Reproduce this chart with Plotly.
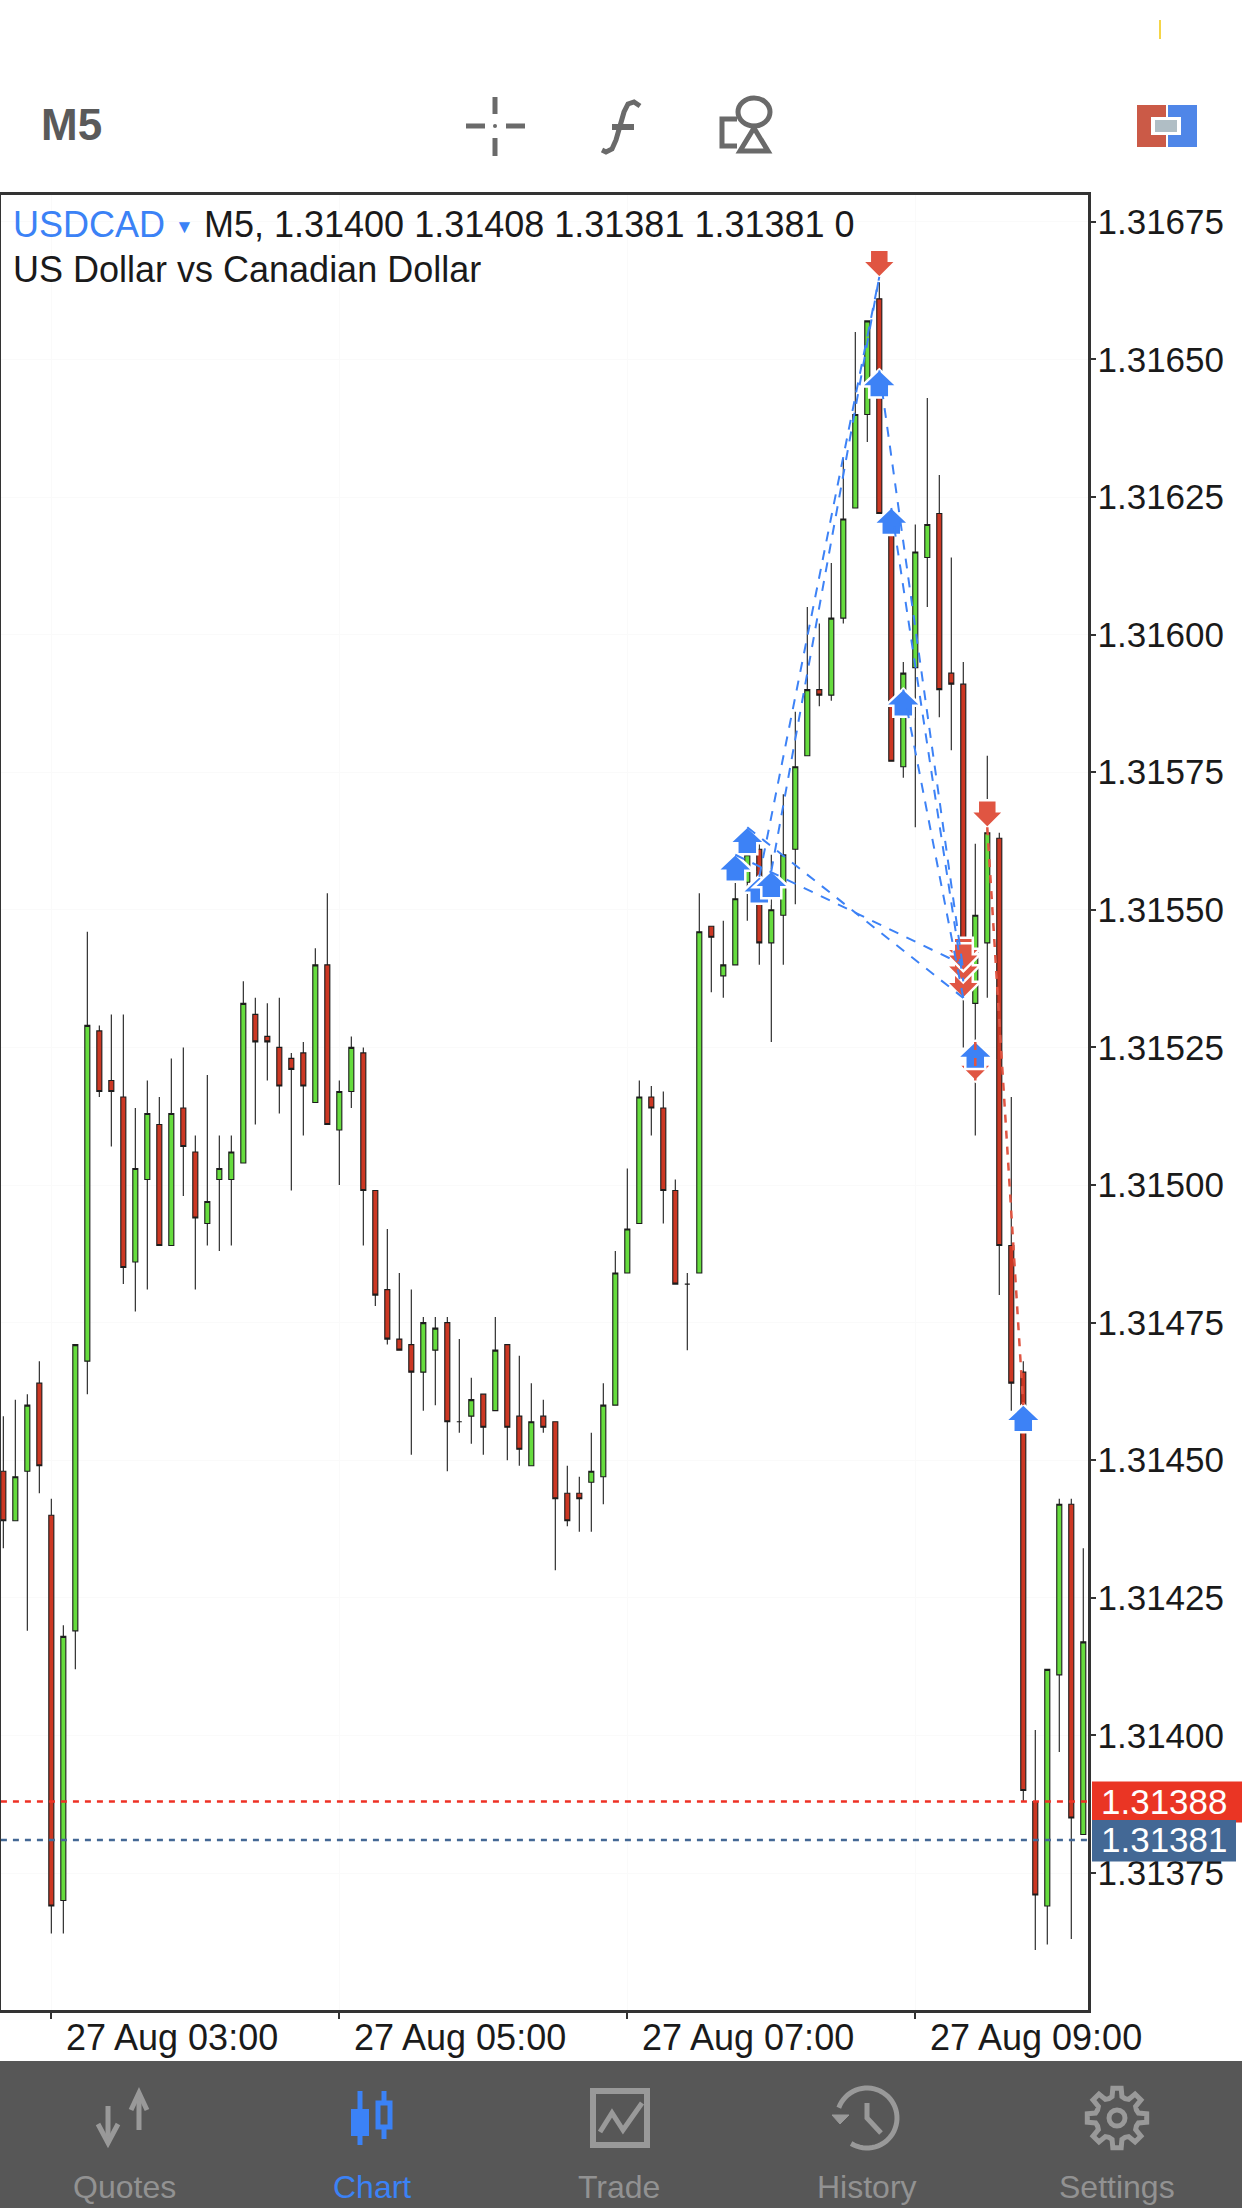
import math
import pandas as pd
import plotly.graph_objects as go

# ---------- DATA (prices in points, 1 point = 0.00001) ----------
open_pts = [131448,131439,131448,131464,131440,131370,131419,131468,131528,131519,131516,131486,131501,131511,131489,131514,131506,131493,131501,131501,131504,131531,131527,131525,131523,131524,131515,131540,131510,131517,131524,131499,131481,131472,131471,131466,131470,131475,131457,131458,131462,131459,131471,131458,131449,131458,131457,131444,131444,131446,131447,131460,131484,131493,131516,131514,131499,131482,131484,131547,131538,131540,131555,131561,131544,131549,131561,131578,131590,131589,131603,131623,131640,131661,131622,131576,131594,131614,131622,131593,131591,131533,131544,131563,131489,131466,131388,131369,131411,131442,131382]
high_pts = [131458,131461,131462,131468,131443,131420,131471,131546,131529,131531,131531,131514,131519,131516,131523,131525,131509,131520,131509,131509,131537,131534,131533,131534,131524,131526,131543,131553,131519,131527,131525,131499,131492,131484,131481,131476,131476,131476,131472,131465,131462,131476,131471,131469,131464,131461,131457,131449,131447,131455,131464,131488,131503,131519,131518,131517,131501,131484,131553,131547,131548,131555,131562,131562,131560,131571,131586,131605,131602,131613,131632,131655,131657,131664,131623,131595,131620,131643,131629,131614,131595,131562,131578,131564,131516,131468,131401,131412,131443,131443,131434]
low_pts = [131434,131439,131419,131444,131364,131364,131412,131462,131516,131507,131482,131477,131481,131489,131489,131498,131481,131489,131488,131489,131504,131511,131519,131513,131499,131509,131515,131511,131500,131514,131489,131478,131471,131470,131451,131459,131460,131448,131455,131453,131451,131459,131450,131449,131449,131455,131430,131438,131437,131437,131442,131460,131484,131493,131509,131493,131482,131470,131484,131535,131534,131540,131548,131540,131526,131540,131551,131578,131587,131588,131602,131623,131635,131622,131577,131574,131565,131605,131585,131579,131525,131509,131534,131480,131459,131388,131361,131362,131397,131363,131382]
close_pts = [131439,131447,131460,131449,131369,131418,131471,131529,131517,131517,131485,131503,131513,131489,131513,131507,131494,131497,131503,131506,131533,131526,131526,131518,131521,131518,131540,131511,131517,131525,131499,131480,131472,131470,131466,131475,131474,131457,131457,131461,131456,131470,131456,131452,131457,131456,131443,131439,131443,131448,131460,131484,131492,131516,131514,131499,131482,131482,131546,131545,131540,131552,131560,131544,131550,131560,131576,131590,131589,131603,131621,131640,131657,131622,131577,131593,131615,131620,131590,131591,131535,131549,131564,131489,131464,131390,131371,131412,131442,131385,131417]

buy_bars = [63,61,62,64,73,74,75,81,85]
buy_pts = [131556,131560,131565,131557,131648,131623,131590,131526,131460]
sell_bars = [73,82,81,80,80,80,80]
sell_pts = [131665,131565,131519,131540,131534,131537,131539]

blue_from_bar = [63,64,62,61,73,74,75]
blue_from_pts = [131556,131557,131565,131560,131648,131623,131590]
blue_to_bar = [73,73,80,80,80,80,80]
blue_to_pts = [131665,131665,131534,131540,131539,131537,131534]
red_from_bar = [82,81]
red_from_pts = [131565,131526]
red_to_bar = [85,81]
red_to_pts = [131460,131519]

ask_price = 131388
bid_price = 131381
y_ticks = [131375,131400,131425,131450,131475,131500,131525,131550,131575,131600,131625,131650,131675]
x_tick_text = ["27 Aug 03:00","27 Aug 05:00","27 Aug 07:00","27 Aug 09:00"]
x_tick_vals = ["2019-08-27 02:59:54","2019-08-27 04:59:54","2019-08-27 06:59:54","2019-08-27 08:59:54"]
tab_labels = ["Quotes","Chart","Trade","History","Settings"]
header_values = "M5, 1.31400 1.31408 1.31381 1.31381 0"
header_name = "US Dollar vs Canadian Dollar"

# ---------- derived ----------
times = pd.date_range("2019-08-27 02:40", periods=len(open_pts), freq="5min")
tstr = [t.strftime("%Y-%m-%d %H:%M:%S") for t in times]
def px(v): return v / 1e5

W, H = 1242, 2208
L, R, T, B = 1, 1088, 195, 2010
GREEN, RED = "#66dc3e", "#cc3723"
DARK = "#1c1c1c"
BLUE_M, RED_M = "#3d82f6", "#e05542"
ICON = "#6a6a6a"
TAB = "#999999"
AXIS_FONT = "Liberation Sans"

fig = go.Figure()
fig.add_trace(go.Scatter(x=["2019-08-27 02:39", "2019-08-27 10:13"], y=[px(ask_price)]*2, mode="lines",
                         line=dict(color="#ee3124", width=2.6, dash="6px,6px"), hoverinfo="skip"))
fig.add_trace(go.Scatter(x=["2019-08-27 02:39", "2019-08-27 10:13"], y=[px(bid_price)]*2, mode="lines",
                         line=dict(color="#436895", width=2.6, dash="6px,6px"), hoverinfo="skip"))
fig.add_trace(go.Candlestick(
    x=tstr, open=[px(v) for v in open_pts], high=[px(v) for v in high_pts],
    low=[px(v) for v in low_pts], close=[px(v) for v in close_pts],
    increasing=dict(fillcolor=GREEN, line=dict(color=DARK, width=1.1)),
    decreasing=dict(fillcolor=RED, line=dict(color=DARK, width=1.1)),
    whiskerwidth=0))

shapes, annos = [], []
def fx(x): return (x - L) / (R - L)
def fy(y): return 1 - (y - T) / (B - T)
def paper_path(pts, close=False, **kw):
    d = "M " + " L ".join(f"{fx(x):.5f} {fy(y):.5f}" for x, y in pts) + (" Z" if close else "")
    shapes.append(dict(type="path", xref="paper", yref="paper", path=d, **kw))
def rect(x0, y0, x1, y1, fill, line=None, lw=0):
    shapes.append(dict(type="rect", xref="paper", yref="paper", x0=fx(x0), x1=fx(x1), y0=fy(y0), y1=fy(y1),
                       fillcolor=fill, line=dict(color=line or fill, width=lw)))
def stroke(pts, color, w, close=False, fill=None):
    paper_path(pts, close=close, line=dict(color=color, width=w), fillcolor=fill or "rgba(0,0,0,0)")
def circle(cx, cy, rx, ry, fill, line, lw):
    shapes.append(dict(type="circle", xref="paper", yref="paper", x0=fx(cx-rx), x1=fx(cx+rx), y0=fy(cy+ry), y1=fy(cy-ry),
                       fillcolor=fill, line=dict(color=line, width=lw)))
def text(x, y, s, size, color, anchor="left", family="Liberation Sans"):
    annos.append(dict(xref="paper", yref="paper", x=fx(x), y=fy(y), text=s, showarrow=False, xanchor=anchor, yanchor="middle",
                      font=dict(size=size, color=color, family=family), borderpad=0))

# ---------- trade arrows (pixel sized, anchored on the data) ----------
UP = "M 0 1 L 18 -16 L 10 -16 L 10 -27 L -10 -27 L -10 -16 L -18 -16 Z"
DOWN = "M 0 -1 L 17 16 L 9.5 16 L 9.5 27 L -9.5 27 L -9.5 16 L -17 16 Z"
def arrow(i, p, path, color):
    shapes.append(dict(type="path", xref="x", yref="y", xsizemode="pixel", ysizemode="pixel",
                       xanchor=tstr[i], yanchor=px(p), path=path, fillcolor=color,
                       line=dict(color="white", width=2.5)))
for i, p in zip(sell_bars, sell_pts):
    arrow(i, p, DOWN, RED_M)
for i, p in zip(buy_bars, buy_pts):
    arrow(i, p, UP, BLUE_M)
for a, pa, b, pb in zip(blue_from_bar, blue_from_pts, blue_to_bar, blue_to_pts):
    shapes.append(dict(type="line", xref="x", yref="y", x0=tstr[a], y0=px(pa), x1=tstr[b], y1=px(pb),
                       line=dict(color=BLUE_M, width=2, dash="10px,9px")))
for a, pa, b, pb in zip(red_from_bar, red_from_pts, red_to_bar, red_to_pts):
    shapes.append(dict(type="line", xref="x", yref="y", x0=tstr[a], y0=px(pa), x1=tstr[b], y1=px(pb),
                       line=dict(color=RED_M, width=2.5, dash="8px,8px")))

# ---------- price tags ----------
rect(1092, 1781.5, W, 1822.5, "#ea3524")
rect(1092, 1820, 1236, 1861.5, "#436895")
annos.append(dict(xref="paper", yref="y", x=fx(1099), y=px(ask_price), text=f"{px(ask_price):.5f}", showarrow=False,
                  xanchor="left", yanchor="middle", font=dict(size=35, color="white", family=AXIS_FONT)))
annos.append(dict(xref="paper", yref="y", x=fx(1099), y=px(bid_price), text=f"{px(bid_price):.5f}", showarrow=False,
                  xanchor="left", yanchor="middle", font=dict(size=35, color="white", family=AXIS_FONT)))

# ---------- header ----------
text(12, 225, "USDCAD", 36, "#3b82f6")
text(174, 226, "▼", 19, "#3b82f6")
text(203, 225, header_values, 36, "#1a1a1a")
text(12, 269, header_name, 36, "#1a1a1a")

# ---------- top tool bar ----------
rect(1159, 20, 1161, 39, "#f5d547")
text(40, 124, "<b>M5</b>", 44, "#5a5a5a")
for seg in [((495,97),(495,114)), ((495,138),(495,156)), ((466,126),(485,126)), ((506,126),(525,126))]:
    stroke(list(seg), ICON, 5)
circle(495, 126, 2, 2, ICON, ICON, 0)
f_pts = [(640,106),(634,102),(628,104),(624,112),(620,126),(616,140),(612,149),(606,152),(602,150)]
stroke(f_pts, ICON, 5)
stroke([(612,127),(634,127)], ICON, 6)
stroke([(737,119),(722,119),(722,146),(737,146)], ICON, 5)
circle(754, 112, 16, 14, "rgba(0,0,0,0)", ICON, 5)
stroke([(754,128),(768,151),(740,151)], ICON, 5, close=True, fill="white")
rect(1137, 105, 1166, 147, "#cb5a47")
rect(1168, 105, 1197, 147, "#4f86e8")
rect(1151, 117, 1181, 135, "white")
rect(1155, 120, 1177, 132, "#b0bec5")

# ---------- tab bar ----------
rect(0, 2061, W, H, "#575757")
tab_x = [124, 372, 619, 867, 1117]
for x, s in zip(tab_x, tab_labels):
    text(x, 2187, s, 32, "#3b82f6" if s == "Chart" else "#929292", "center")
# quotes
stroke([(139,2093),(139,2130)], TAB, 5)
stroke([(131,2110),(139,2093),(147,2110)], TAB, 5)
stroke([(108,2106),(108,2143)], TAB, 5)
stroke([(98,2124),(108,2143),(118,2124)], TAB, 5)
# chart
stroke([(360,2091),(360,2145)], "#3b82f6", 5)
rect(351, 2109, 369, 2136, "#3b82f6")
stroke([(384,2091),(384,2139)], "#3b82f6", 5)
rect(378, 2103, 390, 2127, "#575757", "#3b82f6", 5)
# trade
rect(593, 2091, 647, 2145, "rgba(0,0,0,0)", TAB, 6)
stroke([(600,2132),(612,2113),(623,2130),(642,2103)], TAB, 5)
# history
arc = [(867 + 30*math.cos(math.radians(a)), 2118 + 30*math.sin(math.radians(a))) for a in range(200, 486, 6)]
stroke(arc, TAB, 5)
paper_path([(832,2115),(849,2115),(840,2124)], close=True, fillcolor=TAB, line=dict(color=TAB, width=1))
stroke([(867,2103),(867,2118),(881,2133)], TAB, 5)
# settings
gear = []
for k in range(8):
    c = k * 45 - 90
    for da, r in [(-22.5, 21), (-13, 22), (-8, 30), (8, 30), (13, 22)]:
        a = math.radians(c + da)
        gear.append((1117 + r*math.cos(a), 2118 + r*math.sin(a)))
stroke(gear, TAB, 5, close=True)
circle(1117, 2118, 8, 8, "rgba(0,0,0,0)", TAB, 5)

fig.update_layout(
    width=W, height=H, margin=dict(l=L, r=W-R, t=T, b=H-B, pad=0, autoexpand=False),
    paper_bgcolor="white", plot_bgcolor="white", showlegend=False, boxmode="overlay", boxgap=0.4,
    shapes=shapes, annotations=annos, hovermode=False,
    font=dict(family="Liberation Sans", color="#1a1a1a"),
    xaxis=dict(type="date", range=["2019-08-27 02:39:02", "2019-08-27 10:11:58"],
               tickmode="array", tickvals=x_tick_vals, ticktext=x_tick_text,
               ticks="outside", ticklen=6, tickwidth=1.5, tickcolor="#333333",
               tickfont=dict(size=36, color="#1a1a1a", family=AXIS_FONT),
               ticklabelshift=121, ticklabelstandoff=-12,
               showgrid=True, gridcolor="#fafafa", gridwidth=1, zeroline=False,
               showline=True, linecolor="#333333", linewidth=3, mirror=True,
               rangeslider=dict(visible=False)),
    yaxis=dict(side="right", range=[1.3135011, 1.3167987],
               tickmode="array", tickvals=[px(v) for v in y_ticks], ticktext=[f"{px(v):.5f}" for v in y_ticks],
               ticks="outside", ticklen=5, tickwidth=2, tickcolor="#333333",
               tickfont=dict(size=35, color="#1a1a1a", family=AXIS_FONT),
               ticklabelstandoff=-5,
               showgrid=True, gridcolor="#fafafa", gridwidth=1, zeroline=False,
               showline=True, linecolor="#333333", linewidth=2.5, mirror=True),
)

fig.write_html("out.html", config=dict(displayModeBar=False, staticPlot=True),
               post_script="document.body.style.margin='0';document.body.style.overflow='hidden';")
